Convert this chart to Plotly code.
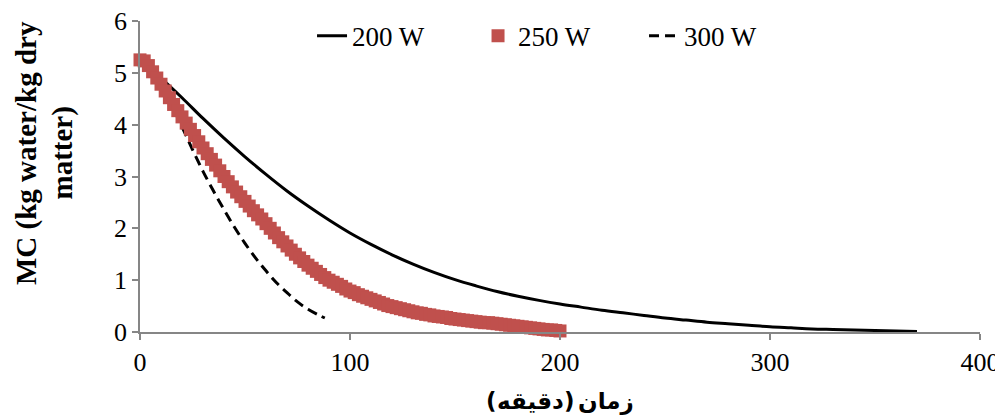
import plotly.graph_objects as go

# ---- data (time in minutes, MC in kg water/kg dry matter) ----
t_200 = [0, 10, 20, 30, 40, 50, 60, 70, 80, 90, 100, 110, 120, 130, 140, 150, 160, 170, 180,
         190, 200, 210, 220, 230, 240, 250, 260, 270, 280, 290, 300, 310, 320, 330, 340, 350, 360, 370]
mc_200 = [5.25, 4.90, 4.52, 4.12, 3.74, 3.38, 3.04, 2.72, 2.43, 2.16, 1.91, 1.69, 1.49, 1.31, 1.15,
          1.01, 0.89, 0.78, 0.69, 0.61, 0.54, 0.48, 0.42, 0.37, 0.32, 0.27, 0.23, 0.19, 0.16, 0.13,
          0.10, 0.08, 0.06, 0.05, 0.04, 0.03, 0.02, 0.01]

t_250 = list(range(0, 202, 2))
mc_250 = [5.25, 5.23, 5.14, 5.02, 4.90, 4.78, 4.65, 4.52, 4.39, 4.27,
          4.15, 4.03, 3.91, 3.79, 3.67, 3.55, 3.44, 3.33, 3.22, 3.11,
          3.00, 2.90, 2.80, 2.70, 2.61, 2.52, 2.43, 2.34, 2.26, 2.18,
          2.09, 2.00, 1.91, 1.82, 1.74, 1.66, 1.58, 1.50, 1.43, 1.36,
          1.29, 1.23, 1.17, 1.11, 1.05, 1.00, 0.96, 0.92, 0.88, 0.83,
          0.79, 0.76, 0.72, 0.69, 0.66, 0.63, 0.60, 0.57, 0.54, 0.51,
          0.49, 0.47, 0.45, 0.43, 0.41, 0.39, 0.37, 0.36, 0.34, 0.33,
          0.31, 0.30, 0.29, 0.28, 0.26, 0.25, 0.24, 0.23, 0.22, 0.21,
          0.20, 0.19, 0.18, 0.18, 0.17, 0.16, 0.15, 0.14, 0.13, 0.12,
          0.11, 0.10, 0.09, 0.08, 0.07, 0.06, 0.05, 0.04, 0.04, 0.03,
          0.02]

t_300 = [0, 5, 10, 15, 20, 25, 30, 35, 40, 45, 50, 55, 60, 65, 70, 75, 80, 85, 88]
mc_300 = [5.25, 5.05, 4.78, 4.38, 3.96, 3.52, 3.10, 2.72, 2.36, 2.02, 1.71, 1.43, 1.18, 0.95,
          0.76, 0.58, 0.44, 0.33, 0.27]

x_ticks = [0, 100, 200, 300, 400]
y_ticks = [0, 1, 2, 3, 4, 5, 6]

series_names = ["200 W", "250 W", "300 W"]
y_title_lines = ["MC (kg water/kg dry", "matter)"]
# x-axis title "زمان (دقیقه)" split into pieces, laid out in visual left-to-right order
x_title_parts = ["(", "دقیقه", ")", "زمان"]

RED = "#C0504D"
AXIS = "#868686"
FONT = "Liberation Serif, Times New Roman, serif"
AR_FONT = "DejaVu Sans, Noto Sans, sans-serif"

fig = go.Figure()
fig.add_trace(go.Scatter(x=t_200, y=mc_200, mode="lines", name=series_names[0],
                         line=dict(color="black", width=3, shape="spline"), legendrank=1))
fig.add_trace(go.Scatter(x=t_300, y=mc_300, mode="lines", name=series_names[2],
                         line=dict(color="black", width=3, dash="10px,6px", shape="spline"),
                         legendrank=3))
fig.add_trace(go.Scatter(x=t_250, y=mc_250, mode="markers", name=series_names[1],
                         marker=dict(symbol="square", size=13, color=RED, line=dict(width=0)),
                         cliponaxis=False, legendrank=2))


# page pixel -> paper coordinate (plot area spans page x 140..980, y 21..332)
def px_to_paper_x(px):
    return (px - 140) / 840.0


def px_to_paper_y(py):
    return (332 - py) / 311.0


annots = [
    dict(text="<b>" + y_title_lines[0] + "</b>", xref="paper", yref="paper",
         x=px_to_paper_x(26.5), y=px_to_paper_y(153.5), xanchor="center", yanchor="middle",
         textangle=-90, showarrow=False, font=dict(size=29, family=FONT)),
    dict(text="<b>" + y_title_lines[1] + "</b>", xref="paper", yref="paper",
         x=px_to_paper_x(62), y=px_to_paper_y(153.5), xanchor="center", yanchor="middle",
         textangle=-90, showarrow=False, font=dict(size=29, family=FONT)),
]
title_y = px_to_paper_y(401)
anchors = [("right", 498), ("left", 496), ("left", 563), ("left", 577)]
for part, (anc, px) in zip(x_title_parts, anchors):
    annots.append(dict(text="<b>" + part + "</b>", xref="paper", yref="paper",
                       x=px_to_paper_x(px), y=title_y, xanchor=anc, yanchor="middle",
                       showarrow=False, borderpad=0, font=dict(size=23, family=AR_FONT)))

# page body has an 8px margin: figure is shifted by 8px, so size/margins compensate
fig.update_layout(
    width=995, height=408,
    margin=dict(l=132, r=23, t=13, b=84, autoexpand=False),
    paper_bgcolor="white", plot_bgcolor="white",
    font=dict(family=FONT, size=26, color="black"),
    showlegend=True,
    legend=dict(orientation="h", x=0.2048, xanchor="left", y=0.951, yanchor="middle",
                bgcolor="rgba(0,0,0,0)", font=dict(size=27, family=FONT),
                entrywidth=121, entrywidthmode="pixels", traceorder="normal"),
    xaxis=dict(range=[0, 400], tickvals=x_ticks, ticktext=[str(v) for v in x_ticks],
               showgrid=False, zeroline=False, showline=True, linecolor=AXIS, linewidth=1.5,
               ticks="outside", ticklen=6, tickcolor=AXIS, tickwidth=1.5, automargin=False,
               ticklabeloverflow="allow", tickfont=dict(size=26, family=FONT)),
    yaxis=dict(range=[0, 6], tickvals=y_ticks, ticktext=[str(v) for v in y_ticks],
               showgrid=False, zeroline=False, showline=True, linecolor=AXIS, linewidth=1.5,
               ticks="outside", ticklen=6, tickcolor=AXIS, tickwidth=1.5, automargin=False,
               ticklabeloverflow="allow", tickfont=dict(size=26, family=FONT)),
    annotations=annots,
)

fig.write_html("out.html")
